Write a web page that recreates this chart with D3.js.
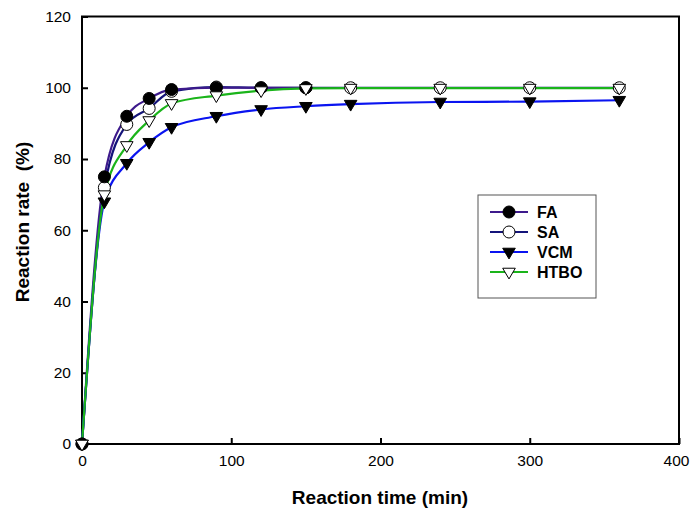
<!DOCTYPE html>
<html>
<head>
<meta charset="utf-8">
<script src="https://cdn.jsdelivr.net/npm/d3@7"></script>
<style>
body{margin:0;background:#fff;}
text{font-family:Arial,"Liberation Sans",sans-serif;}
</style>
</head>
<body>
<svg id="chart" width="691" height="511"></svg>
<script>
const timeFA = [0, 15, 30, 45, 60, 90, 120, 150];
const valFA = [0, 75, 92, 97, 99.5, 100, 100, 100];
const timeSA = [0, 15, 30, 45, 60, 90, 120, 150, 180, 240, 300, 360];
const valSA = [0, 72, 89.7, 94.2, 99, 100.2, 100, 100, 100, 100, 100, 100];
const timeVCM = [0, 15, 30, 45, 60, 90, 120, 150, 180, 240, 300, 360];
const valVCM = [0, 68, 78.8, 84.7, 88.9, 92, 93.9, 94.8, 95.4, 96, 96.1, 96.5];
const timeHTBO = [0, 15, 30, 45, 60, 90, 120, 150, 180, 240, 300, 360];
const valHTBO = [0, 70, 83.8, 90.8, 95.6, 97.8, 99.2, 99.8, 99.9, 99.9, 99.9, 99.9];
const seriesNames = ["FA", "SA", "VCM", "HTBO"];
const xTicks = [0, 100, 200, 300, 400];
const yTicks = [0, 20, 40, 60, 80, 100, 120];

const series = [
  {name:"FA", t:timeFA, v:valFA, color:"#3d1a8c", marker:"circle", fill:"#000"},
  {name:"SA", t:timeSA, v:valSA, color:"#14147a", marker:"circle", fill:"#fff"},
  {name:"VCM", t:timeVCM, v:valVCM, color:"#0a14f0", marker:"tri", fill:"#000"},
  {name:"HTBO", t:timeHTBO, v:valHTBO, color:"#1ab41a", marker:"tri", fill:"#fff"}
];

const svg = d3.select("#chart");
const L = 82, R = 679, T = 16.5, B = 444;
const x = d3.scaleLinear().domain([0, 400]).range([L, R]);
const y = d3.scaleLinear().domain([0, 120]).range([B, T]);

// frame
svg.append("rect").attr("x", L).attr("y", T).attr("width", R - L).attr("height", B - T)
  .attr("fill", "none").attr("stroke", "#000").attr("stroke-width", 2);

// axes
const xAxis = d3.axisBottom(x).tickValues(xTicks).tickSizeInner(-6).tickSizeOuter(0).tickPadding(11);
const gx = svg.append("g").attr("transform", `translate(0,${B})`).call(xAxis);
gx.select(".domain").remove();
gx.selectAll("line").attr("stroke-width", 2);
gx.selectAll("text").attr("font-size", 15.5).attr("fill", "#000")
  .attr("dx", d => d === 400 ? -3 : 0);

const yAxis = d3.axisLeft(y).tickValues(yTicks).tickSizeInner(-6).tickSizeOuter(0).tickPadding(11);
const gy = svg.append("g").attr("transform", `translate(${L},0)`).call(yAxis);
gy.select(".domain").remove();
gy.selectAll("line").attr("stroke-width", 2);
gy.selectAll("text").attr("font-size", 15.5).attr("fill", "#000");

// titles
svg.append("text").attr("x", 380).attr("y", 504).attr("text-anchor", "middle")
  .attr("font-size", 19).attr("font-weight", "bold").text("Reaction time (min)");
svg.append("text").attr("transform", "translate(29,222) rotate(-90)").attr("text-anchor", "middle")
  .attr("font-size", 19).attr("font-weight", "bold").attr("xml:space", "preserve").style("white-space", "pre")
  .text("Reaction rate  (%)");

const line = d3.line().curve(d3.curveMonotoneX).x(d => x(d[0])).y(d => y(d[1]));

function drawMarker(g, s, cx, cy) {
  if (s.marker === "circle") {
    g.append("circle").attr("cx", cx).attr("cy", cy).attr("r", 6)
      .attr("fill", s.fill).attr("stroke", "#000").attr("stroke-width", 1);
  } else {
    const h = 6.3;
    g.append("path").attr("d", `M${cx - h},${cy - h * 0.6}L${cx + h},${cy - h * 0.6}L${cx},${cy + h * 1.1}Z`)
      .attr("fill", s.fill).attr("stroke", "#000").attr("stroke-width", 1);
  }
}

const order = ["SA", "FA", "VCM", "HTBO"];
order.forEach(n => {
  const s = series.find(d => d.name === n);
  const pts = s.t.map((t, i) => [t, s.v[i]]);
  svg.append("path").datum(pts).attr("d", line).attr("fill", "none")
    .attr("stroke", s.color).attr("stroke-width", 2.2);
});
order.forEach(n => {
  const s = series.find(d => d.name === n);
  const g = svg.append("g");
  s.t.forEach((t, i) => drawMarker(g, s, x(t), y(s.v[i])));
});

// legend
const lg = svg.append("g");
lg.append("rect").attr("x", 478).attr("y", 195).attr("width", 118).attr("height", 103)
  .attr("fill", "#fff").attr("stroke", "#555").attr("stroke-width", 1);
seriesNames.forEach((n, i) => {
  const s = series.find(d => d.name === n);
  const yy = 212 + i * 20;
  lg.append("line").attr("x1", 490).attr("x2", 528).attr("y1", yy).attr("y2", yy)
    .attr("stroke", s.color).attr("stroke-width", 2);
  drawMarker(lg, s, 509, yy);
  lg.append("text").attr("x", 537).attr("y", yy + 6).attr("font-size", 16)
    .attr("font-weight", "bold").text(n);
});
</script>
</body>
</html>
